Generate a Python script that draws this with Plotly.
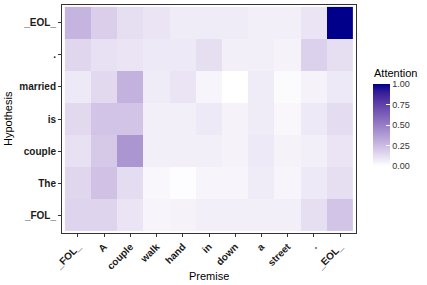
import plotly.graph_objects as go
import numpy as np

premise = ["_FOL_", "A", "couple", "walk", "hand", "in", "down", "a", "street", ".", "_EOL_"]
hypothesis = ["_FOL_", "The", "couple", "is", "married", ".", "_EOL_"]  # bottom to top

row_FOL = [0.16, 0.16, 0.10, 0.04, 0.05, 0.06, 0.06, 0.06, 0.06, 0.12, 0.22]
row_The = [0.15, 0.23, 0.13, 0.03, 0.01, 0.04, 0.04, 0.07, 0.04, 0.08, 0.12]
row_couple = [0.11, 0.20, 0.40, 0.06, 0.06, 0.06, 0.05, 0.08, 0.05, 0.06, 0.10]
row_is = [0.14, 0.22, 0.22, 0.06, 0.06, 0.08, 0.05, 0.07, 0.03, 0.08, 0.13]
row_married = [0.08, 0.14, 0.29, 0.07, 0.10, 0.04, 0.00, 0.07, 0.02, 0.05, 0.08]
row_dot = [0.15, 0.11, 0.10, 0.08, 0.08, 0.12, 0.06, 0.06, 0.05, 0.17, 0.12]
row_EOL = [0.28, 0.18, 0.12, 0.10, 0.07, 0.07, 0.07, 0.06, 0.06, 0.10, 1.00]

z = [row_FOL, row_The, row_couple, row_is, row_married, row_dot, row_EOL]


# Lab-space gradient white -> darkblue (like ggplot scale_fill_gradient)
def srgb_to_lin(c):
    c = c / 255.0
    return np.where(c <= 0.04045, c / 12.92, ((c + 0.055) / 1.055) ** 2.4)


def lin_to_srgb(c):
    c = np.clip(c, 0, 1)
    return np.where(c <= 0.0031308, c * 12.92, 1.055 * c ** (1 / 2.4) - 0.055) * 255


M = np.array([[0.4124, 0.3576, 0.1805], [0.2126, 0.7152, 0.0722], [0.0193, 0.1192, 0.9505]])
Minv = np.linalg.inv(M)
wp = M @ np.ones(3)


def f(t):
    d = 6 / 29
    return np.where(t > d ** 3, np.cbrt(t), t / (3 * d * d) + 4 / 29)


def finv(t):
    d = 6 / 29
    return np.where(t > d, t ** 3, 3 * d * d * (t - 4 / 29))


def to_lab(rgb):
    xyz = M @ srgb_to_lin(np.array(rgb, dtype=float)) / wp
    fx, fy, fz = f(xyz)
    return np.array([116 * fy - 16, 500 * (fx - fy), 200 * (fy - fz)])


def from_lab(lab):
    L, a, b = lab
    fy = (L + 16) / 116
    fx = fy + a / 500
    fz = fy - b / 200
    xyz = np.array([finv(fx), finv(fy), finv(fz)]) * wp
    return lin_to_srgb(Minv @ xyz)


lo = to_lab([255, 255, 255])
hi = to_lab([0, 0, 139])
cs = []
for t in np.linspace(0, 1, 11):
    r, g, b = from_lab(lo + (hi - lo) * t)
    cs.append([float(t), f"rgb({int(round(r))},{int(round(g))},{int(round(b))})"])

W, H = 427, 285
L, R, T, B = 62, 71, 5, 52
PW, PH = W - L - R, H - T - B


def px(x):
    return (x - L) / PW


def py(y):
    return (H - B - y) / PH


fig = go.Figure(go.Heatmap(
    z=z, x=premise, y=hypothesis, zmin=0, zmax=1, colorscale=cs, xgap=0, ygap=0,
    colorbar=dict(
        tickvals=[0, 0.25, 0.5, 0.75, 1.0], ticktext=["0.00", "0.25", "0.50", "0.75", "1.00"],
        ticks="inside", ticklen=4, tickcolor="white", tickwidth=1,
        tickfont=dict(size=9, color="#333", family="Liberation Sans"),
        thickness=17, lenmode="pixels", len=82, outlinewidth=0,
        xref="paper", yref="paper", x=px(373), xanchor="left",
        y=py(125), yanchor="middle", xpad=0, ypad=0,
    ),
))

fig.update_layout(
    width=W, height=H, margin=dict(l=L, r=R, t=T, b=B, autoexpand=False),
    paper_bgcolor="white", plot_bgcolor="white",
    font=dict(family="Liberation Sans", color="#000"),
    annotations=[
        dict(text="Attention", xref="paper", yref="paper", x=px(372), y=py(73),
             xanchor="left", yanchor="middle", showarrow=False, font=dict(size=11, color="#000")),
        dict(text="Premise", xref="paper", yref="paper", x=0.5, y=py(276),
             xanchor="center", yanchor="middle", showarrow=False, font=dict(size=11, color="#000")),
        dict(text="Hypothesis", xref="paper", yref="paper", x=px(8), y=0.5,
             xanchor="center", yanchor="middle", textangle=-90, showarrow=False, font=dict(size=11, color="#000")),
    ],
)
fig.update_xaxes(
    range=[-0.61, 10.61], showline=True, linecolor="#333", linewidth=1, mirror=True,
    ticks="outside", ticklen=3, tickcolor="#333", tickangle=-45,
    tickfont=dict(size=10, color="#1a1a1a", family="Liberation Sans"),
    showgrid=False, tickprefix="<b>", ticksuffix="</b>",
)
fig.update_yaxes(
    range=[-0.56, 6.56], showline=True, linecolor="#333", linewidth=1, mirror=True,
    ticks="outside", ticklen=3, tickcolor="#333",
    tickfont=dict(size=10, color="#1a1a1a", family="Liberation Sans"),
    showgrid=False, tickprefix="<b>", ticksuffix="</b>",
)

fig.write_html("out.html", config={"displayModeBar": False},
               post_script="document.body.style.margin='0';document.body.style.padding='0';")
